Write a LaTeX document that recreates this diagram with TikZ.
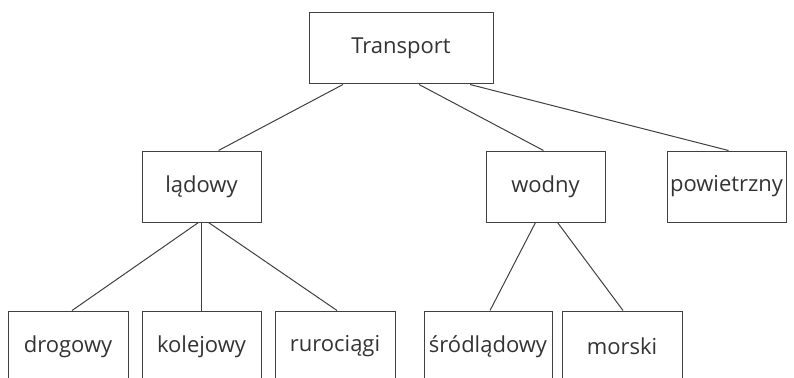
\documentclass[tikz,border=0pt]{standalone}
\usepackage{fontspec}
\setmainfont{Open Sans}
\usetikzlibrary{calc}
\tikzset{
  box/.style = {draw=black!75, line width=1pt, minimum height=71pt,
    minimum width=119pt, inner sep=0pt,
    font=\fontsize{22}{26}\selectfont, text=black!80},
  link/.style = {draw=black!75, line width=1pt}
}
\begin{document}
\begin{tikzpicture}[x=1pt,y=-1pt]
  \useasboundingbox (0,0) rectangle (794,377);
  \clip (0,0) rectangle (794,377);
  % levels
  \node [box, minimum width=184pt] (T) at (401,48.5) {Transport};
  \node [box] (lad) at (201.5,186.5) {lądowy};
  \node [box] (wod) at (545.5,186.5) {wodny};
  \node [box] (pow) at (726.5,186.5) {powietrzny};
  \node [box, minimum width=120pt] (drog) at (68,346.5) {drogowy};
  \node [box] (kol) at (201.5,346.5) {kolejowy};
  \node [box, minimum width=120pt] (rur) at (335,346.5) {rurociągi};
  \node [box, minimum width=128pt] (sro) at (488,346.5) {śródlądowy};
  \node [box, minimum width=120pt] (mor) at (622,346.5) {morski};
  % links
  \draw [link] ($(T.south)+(-58,0)$) -- ($(lad.north)+(17,0)$);
  \draw [link] ($(T.south)+(18,0)$) -- ($(wod.north)+(-2,0)$);
  \draw [link] ($(T.south)+(69,0)$) -- ($(pow.north)+(2,0)$);
  \draw [link] ($(lad.south)+(-3,0)$) -- ($(drog.north)+(4,0)$);
  \draw [link] (lad.south) -- (kol.north);
  \draw [link] ($(lad.south)+(7,0)$) -- ($(rur.north)+(2,0)$);
  \draw [link] ($(wod.south)+(-10,0)$) -- ($(sro.north)+(2,0)$);
  \draw [link] ($(wod.south)+(12,0)$) -- ($(mor.north)+(1,0)$);
\end{tikzpicture}
\end{document}
